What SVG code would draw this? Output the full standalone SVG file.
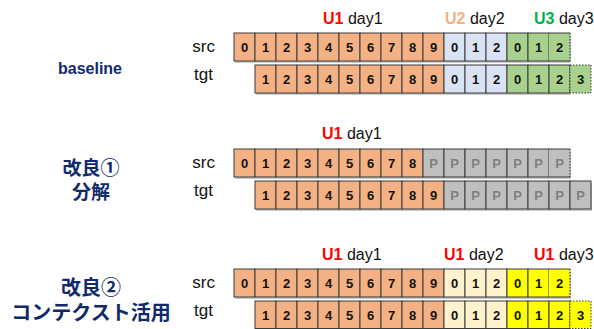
<svg xmlns="http://www.w3.org/2000/svg" width="594" height="329" viewBox="0 0 594 329">
<style>
.bg{fill:#ffffff}
.c{stroke:#3a3a3a;stroke-width:1}
.o{fill:#F4B183}
.b{fill:#DAE3F3}
.g{fill:#A9D18E}
.p{fill:#BFBFBF}
.cr{fill:#FFF2CC}
.y{fill:#FFFF00}
.sh{fill:#c9c9c9}
.dash{stroke:#3a3a3a;stroke-width:1;stroke-dasharray:1.5 1.5}
.dl{stroke:#3a3a3a;stroke-width:1.2;stroke-dasharray:1.5 1.5;fill:none}
.n{font-family:"Liberation Sans",Arial,sans-serif;font-size:13px;font-weight:bold;fill:#111;text-anchor:middle}
.np{font-family:"Liberation Sans",Arial,sans-serif;font-size:13px;font-weight:bold;fill:#7f7f7f;text-anchor:middle}
.lab{font-family:"Liberation Sans",Arial,sans-serif;font-size:17px;fill:#111;text-anchor:end}
.day{font-family:"Liberation Sans",Arial,sans-serif;font-size:16px;fill:#111}
.u1{font-weight:bold;fill:#FF0000}
.u2{font-weight:bold;fill:#F4B183}
.u3{font-weight:bold;fill:#00B050}
.title{font-family:"Liberation Sans","Noto Sans CJK JP",sans-serif;font-weight:bold;fill:#102A6B;text-anchor:middle}
</style>
<rect class="bg" x="0" y="0" width="594" height="329"/>

<!-- Row 1: baseline -->
<g id="baseline">
<text class="title" x="90" y="74" font-size="16">baseline</text>
<text class="lab" x="215" y="52">src</text>
<text class="lab" x="213" y="80">tgt</text>
<text class="day" x="323" y="24"><tspan class="u1">U1</tspan> day1</text>
<text class="day" x="445" y="24"><tspan class="u2">U2</tspan> day2</text>
<text class="day" x="534" y="24"><tspan class="u3">U3</tspan> day3</text>
</g>
<g id="baseline-src">
<rect class="sh" x="235" y="35" width="336" height="28"/>
<g class="c">
<rect class="o" x="234" y="33" width="21" height="28"/><rect class="o" x="255" y="33" width="21" height="28"/><rect class="o" x="276" y="33" width="21" height="28"/><rect class="o" x="297" y="33" width="21" height="28"/><rect class="o" x="318" y="33" width="21" height="28"/><rect class="o" x="339" y="33" width="21" height="28"/><rect class="o" x="360" y="33" width="21" height="28"/><rect class="o" x="381" y="33" width="21" height="28"/><rect class="o" x="402" y="33" width="21" height="28"/><rect class="o" x="423" y="33" width="21" height="28"/>
<rect class="b" x="444" y="33" width="21" height="28"/><rect class="b" x="465" y="33" width="21" height="28"/><rect class="b" x="486" y="33" width="21" height="28"/>
<rect class="g" x="507" y="33" width="21" height="28"/><rect class="g" x="528" y="33" width="21" height="28"/>
</g>
<rect class="g" x="549" y="33" width="21" height="28" stroke="none"/>
<path class="c" d="M549 33H570M549 61H570" fill="none"/>
<path class="dl" d="M570 33V61"/>
<g>
<text class="n" x="244.5" y="52">0</text><text class="n" x="265.5" y="52">1</text><text class="n" x="286.5" y="52">2</text><text class="n" x="307.5" y="52">3</text><text class="n" x="328.5" y="52">4</text><text class="n" x="349.5" y="52">5</text><text class="n" x="370.5" y="52">6</text><text class="n" x="391.5" y="52">7</text><text class="n" x="412.5" y="52">8</text><text class="n" x="433.5" y="52">9</text>
<text class="n" x="454.5" y="52">0</text><text class="n" x="475.5" y="52">1</text><text class="n" x="496.5" y="52">2</text>
<text class="n" x="517.5" y="52">0</text><text class="n" x="538.5" y="52">1</text><text class="n" x="559.5" y="52">2</text>
</g>
</g>
<g id="baseline-tgt">
<rect class="sh" x="256" y="67" width="314" height="28"/>
<g class="c">
<rect class="o" x="255" y="65" width="21" height="28"/><rect class="o" x="276" y="65" width="21" height="28"/><rect class="o" x="297" y="65" width="21" height="28"/><rect class="o" x="318" y="65" width="21" height="28"/><rect class="o" x="339" y="65" width="21" height="28"/><rect class="o" x="360" y="65" width="21" height="28"/><rect class="o" x="381" y="65" width="21" height="28"/><rect class="o" x="402" y="65" width="21" height="28"/><rect class="o" x="423" y="65" width="21" height="28"/>
<rect class="b" x="444" y="65" width="21" height="28"/><rect class="b" x="465" y="65" width="21" height="28"/><rect class="b" x="486" y="65" width="21" height="28"/>
<rect class="g" x="507" y="65" width="21" height="28"/><rect class="g" x="528" y="65" width="21" height="28"/><rect class="g" x="549" y="65" width="21" height="28"/>
</g>
<rect class="g dash" x="570" y="65" width="21" height="28"/>
<g>
<text class="n" x="265.5" y="84">1</text><text class="n" x="286.5" y="84">2</text><text class="n" x="307.5" y="84">3</text><text class="n" x="328.5" y="84">4</text><text class="n" x="349.5" y="84">5</text><text class="n" x="370.5" y="84">6</text><text class="n" x="391.5" y="84">7</text><text class="n" x="412.5" y="84">8</text><text class="n" x="433.5" y="84">9</text>
<text class="n" x="454.5" y="84">0</text><text class="n" x="475.5" y="84">1</text><text class="n" x="496.5" y="84">2</text>
<text class="n" x="517.5" y="84">0</text><text class="n" x="538.5" y="84">1</text><text class="n" x="559.5" y="84">2</text><text class="n" x="580.5" y="84">3</text>
</g>
</g>

<!-- Row 2: 改良① 分解 -->
<g id="kairyo1">
<text class="title" x="91" y="175" font-size="19">改良①</text>
<text class="title" x="91" y="199" font-size="19">分解</text>
<text class="lab" x="215" y="168">src</text>
<text class="lab" x="213" y="196">tgt</text>
<text class="day" x="322" y="139"><tspan class="u1">U1</tspan> day1</text>
</g>
<g id="kairyo1-src">
<rect class="sh" x="235" y="151" width="336" height="28"/>
<g class="c">
<rect class="o" x="234" y="149" width="21" height="28"/><rect class="o" x="255" y="149" width="21" height="28"/><rect class="o" x="276" y="149" width="21" height="28"/><rect class="o" x="297" y="149" width="21" height="28"/><rect class="o" x="318" y="149" width="21" height="28"/><rect class="o" x="339" y="149" width="21" height="28"/><rect class="o" x="360" y="149" width="21" height="28"/><rect class="o" x="381" y="149" width="21" height="28"/><rect class="o" x="402" y="149" width="21" height="28"/>
<rect class="p" x="423" y="149" width="21" height="28"/><rect class="p" x="444" y="149" width="21" height="28"/><rect class="p" x="465" y="149" width="21" height="28"/><rect class="p" x="486" y="149" width="21" height="28"/><rect class="p" x="507" y="149" width="21" height="28"/><rect class="p" x="528" y="149" width="21" height="28"/>
</g>
<rect class="p" x="549" y="149" width="21" height="28" stroke="none"/>
<path class="c" d="M549 149H570M549 177H570" fill="none"/>
<path class="dl" d="M570 149V177"/>
<g>
<text class="n" x="244.5" y="168">0</text><text class="n" x="265.5" y="168">1</text><text class="n" x="286.5" y="168">2</text><text class="n" x="307.5" y="168">3</text><text class="n" x="328.5" y="168">4</text><text class="n" x="349.5" y="168">5</text><text class="n" x="370.5" y="168">6</text><text class="n" x="391.5" y="168">7</text><text class="n" x="412.5" y="168">8</text>
<text class="np" x="433.5" y="168">P</text><text class="np" x="454.5" y="168">P</text><text class="np" x="475.5" y="168">P</text><text class="np" x="496.5" y="168">P</text><text class="np" x="517.5" y="168">P</text><text class="np" x="538.5" y="168">P</text><text class="np" x="559.5" y="168">P</text>
</g>
</g>
<g id="kairyo1-tgt">
<rect class="sh" x="256" y="183" width="336" height="28"/>
<g class="c">
<rect class="o" x="255" y="181" width="21" height="28"/><rect class="o" x="276" y="181" width="21" height="28"/><rect class="o" x="297" y="181" width="21" height="28"/><rect class="o" x="318" y="181" width="21" height="28"/><rect class="o" x="339" y="181" width="21" height="28"/><rect class="o" x="360" y="181" width="21" height="28"/><rect class="o" x="381" y="181" width="21" height="28"/><rect class="o" x="402" y="181" width="21" height="28"/><rect class="o" x="423" y="181" width="21" height="28"/>
<rect class="p" x="444" y="181" width="21" height="28"/><rect class="p" x="465" y="181" width="21" height="28"/><rect class="p" x="486" y="181" width="21" height="28"/><rect class="p" x="507" y="181" width="21" height="28"/><rect class="p" x="528" y="181" width="21" height="28"/><rect class="p" x="549" y="181" width="21" height="28"/><rect class="p" x="570" y="181" width="21" height="28"/>
</g>
<g>
<text class="n" x="265.5" y="200">1</text><text class="n" x="286.5" y="200">2</text><text class="n" x="307.5" y="200">3</text><text class="n" x="328.5" y="200">4</text><text class="n" x="349.5" y="200">5</text><text class="n" x="370.5" y="200">6</text><text class="n" x="391.5" y="200">7</text><text class="n" x="412.5" y="200">8</text><text class="n" x="433.5" y="200">9</text>
<text class="np" x="454.5" y="200">P</text><text class="np" x="475.5" y="200">P</text><text class="np" x="496.5" y="200">P</text><text class="np" x="517.5" y="200">P</text><text class="np" x="538.5" y="200">P</text><text class="np" x="559.5" y="200">P</text><text class="np" x="580.5" y="200">P</text>
</g>
</g>

<!-- Row 3: 改良② コンテクスト活用 -->
<g id="kairyo2">
<text class="title" x="91" y="295" font-size="20">改良②</text>
<text class="title" x="91" y="320" font-size="20">コンテクスト活用</text>
<text class="lab" x="215" y="288">src</text>
<text class="lab" x="213" y="316">tgt</text>
<text class="day" x="322" y="260"><tspan class="u1">U1</tspan> day1</text>
<text class="day" x="444" y="260"><tspan class="u1">U1</tspan> day2</text>
<text class="day" x="534" y="260"><tspan class="u1">U1</tspan> day3</text>
</g>
<g id="kairyo2-src">
<rect class="sh" x="235" y="271" width="336" height="28"/>
<g class="c">
<rect class="o" x="234" y="269" width="21" height="28"/><rect class="o" x="255" y="269" width="21" height="28"/><rect class="o" x="276" y="269" width="21" height="28"/><rect class="o" x="297" y="269" width="21" height="28"/><rect class="o" x="318" y="269" width="21" height="28"/><rect class="o" x="339" y="269" width="21" height="28"/><rect class="o" x="360" y="269" width="21" height="28"/><rect class="o" x="381" y="269" width="21" height="28"/><rect class="o" x="402" y="269" width="21" height="28"/><rect class="o" x="423" y="269" width="21" height="28"/>
<rect class="cr" x="444" y="269" width="21" height="28"/><rect class="cr" x="465" y="269" width="21" height="28"/><rect class="cr" x="486" y="269" width="21" height="28"/>
<rect class="y" x="507" y="269" width="21" height="28"/><rect class="y" x="528" y="269" width="21" height="28"/>
</g>
<rect class="y" x="549" y="269" width="21" height="28" stroke="none"/>
<path class="c" d="M549 269H570M549 297H570" fill="none"/>
<path class="dl" d="M570 269V297"/>
<g>
<text class="n" x="244.5" y="288">0</text><text class="n" x="265.5" y="288">1</text><text class="n" x="286.5" y="288">2</text><text class="n" x="307.5" y="288">3</text><text class="n" x="328.5" y="288">4</text><text class="n" x="349.5" y="288">5</text><text class="n" x="370.5" y="288">6</text><text class="n" x="391.5" y="288">7</text><text class="n" x="412.5" y="288">8</text><text class="n" x="433.5" y="288">9</text>
<text class="n" x="454.5" y="288">0</text><text class="n" x="475.5" y="288">1</text><text class="n" x="496.5" y="288">2</text>
<text class="n" x="517.5" y="288">0</text><text class="n" x="538.5" y="288">1</text><text class="n" x="559.5" y="288">2</text>
</g>
</g>
<g id="kairyo2-tgt">
<rect class="sh" x="256" y="303" width="314" height="28"/>
<g class="c">
<rect class="o" x="255" y="301" width="21" height="27.5"/><rect class="o" x="276" y="301" width="21" height="27.5"/><rect class="o" x="297" y="301" width="21" height="27.5"/><rect class="o" x="318" y="301" width="21" height="27.5"/><rect class="o" x="339" y="301" width="21" height="27.5"/><rect class="o" x="360" y="301" width="21" height="27.5"/><rect class="o" x="381" y="301" width="21" height="27.5"/><rect class="o" x="402" y="301" width="21" height="27.5"/><rect class="o" x="423" y="301" width="21" height="27.5"/>
<rect class="cr" x="444" y="301" width="21" height="27.5"/><rect class="cr" x="465" y="301" width="21" height="27.5"/><rect class="cr" x="486" y="301" width="21" height="27.5"/>
<rect class="y" x="507" y="301" width="21" height="27.5"/><rect class="y" x="528" y="301" width="21" height="27.5"/><rect class="y" x="549" y="301" width="21" height="27.5"/>
</g>
<rect class="y dash" x="570" y="301" width="21" height="27.5"/>
<g>
<text class="n" x="265.5" y="320">1</text><text class="n" x="286.5" y="320">2</text><text class="n" x="307.5" y="320">3</text><text class="n" x="328.5" y="320">4</text><text class="n" x="349.5" y="320">5</text><text class="n" x="370.5" y="320">6</text><text class="n" x="391.5" y="320">7</text><text class="n" x="412.5" y="320">8</text><text class="n" x="433.5" y="320">9</text>
<text class="n" x="454.5" y="320">0</text><text class="n" x="475.5" y="320">1</text><text class="n" x="496.5" y="320">2</text>
<text class="n" x="517.5" y="320">0</text><text class="n" x="538.5" y="320">1</text><text class="n" x="559.5" y="320">2</text><text class="n" x="580.5" y="320">3</text>
</g>
</g>
<g id="connectors"/>
</svg>
